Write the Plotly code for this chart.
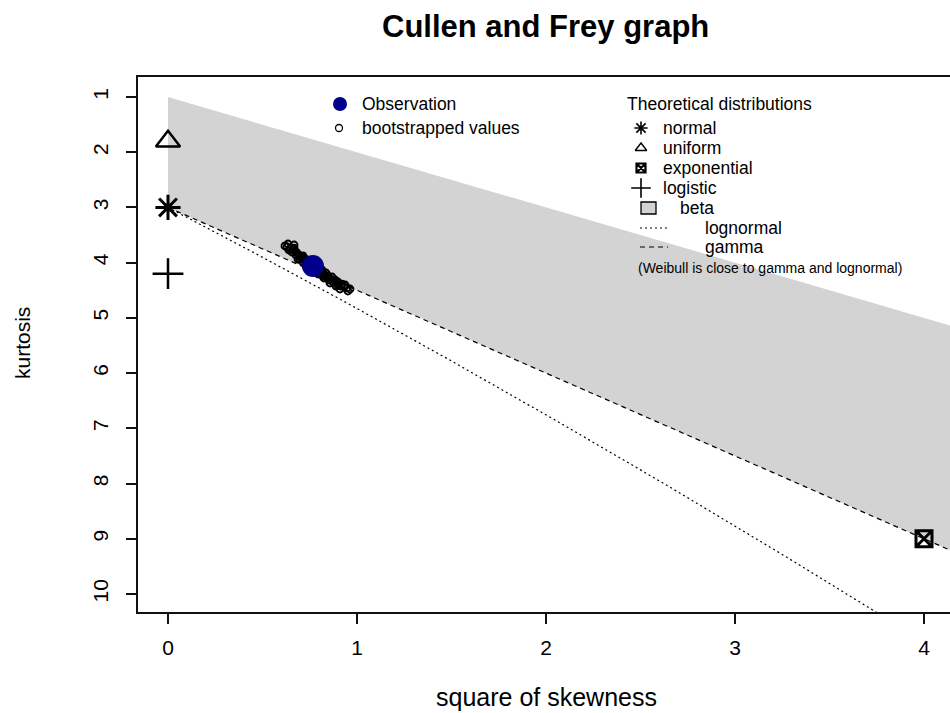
import plotly.graph_objects as go

# ---- data -------------------------------------------------------------
obs_skew2 = [0.767]
obs_kurt = [4.06]

boot_skew2 = [0.619, 0.635, 0.646, 0.656, 0.667, 0.672, 0.677, 0.693, 0.698, 0.709,
              0.714, 0.725, 0.730, 0.741, 0.751, 0.762, 0.772, 0.778, 0.783, 0.794,
              0.804, 0.810, 0.815, 0.820, 0.831, 0.841, 0.852, 0.862, 0.873, 0.889,
              0.899, 0.915, 0.931, 0.947, 0.963,
              0.640, 0.661, 0.683, 0.698, 0.720, 0.735, 0.746, 0.762, 0.783, 0.799,
              0.815, 0.836, 0.847, 0.868, 0.884, 0.899, 0.921, 0.937, 0.688, 0.714,
              0.794, 0.825, 0.857, 0.889, 0.910, 0.757, 0.730, 0.667, 0.630, 0.952]
boot_kurt = [3.698, 3.662, 3.753, 3.807, 3.735, 3.789, 3.861, 3.879, 3.934, 3.916,
             3.988, 3.970, 4.024, 3.988, 4.042, 4.079, 4.097, 4.042, 4.133, 4.169,
             4.151, 4.205, 4.133, 4.242, 4.224, 4.278, 4.314, 4.296, 4.350, 4.368,
             4.405, 4.423, 4.441, 4.459, 4.477,
             3.771, 3.753, 3.825, 3.879, 3.916, 3.952, 4.006, 4.006, 4.079, 4.115,
             4.169, 4.187, 4.242, 4.260, 4.314, 4.350, 4.387, 4.405, 3.934, 3.879,
             4.205, 4.278, 4.368, 4.423, 4.477, 4.133, 4.061, 3.680, 3.716, 4.513]

# theoretical single points (square of skewness, kurtosis)
normal_pt = ([0], [3.0])
uniform_pt = ([0], [1.8])
logistic_pt = ([0], [4.2])
exponential_pt = ([4], [9.0])

# lognormal curve
lnorm_skew2 = [0.0, 0.465, 0.961, 1.488, 2.048, 2.641, 3.267, 3.928]
lnorm_kurt = [3.0, 3.838, 4.756, 5.758, 6.850, 8.035, 9.320, 10.710]

# gamma line
gamma_skew2 = [0.0, 4.3]
gamma_kurt = [3.0, 9.45]

# beta region: between kurtosis = 1 + skew^2 and the gamma line
beta_skew2 = [0.0, 4.3, 4.3, 0.0]
beta_kurt = [1.0, 5.3, 9.45, 3.0]

x_ticks = [0, 1, 2, 3, 4]
y_ticks = [1, 2, 3, 4, 5, 6, 7, 8, 9, 10]

# ---- page geometry (pixels) ------------------------------------------
W, H = 950, 713
L, R, T, B = 138, 950, 77, 612
FONT = "Liberation Sans, Arial, sans-serif"
GREY = "#d3d3d3"
LEG_SIZE = 17.5


def px(x):
    return (x - L) / (R - L)


def py(y):
    return (B - y) / (B - T)


fig = go.Figure()

fig.add_trace(go.Scatter(x=beta_skew2, y=beta_kurt, fill="toself", fillcolor=GREY,
                         mode="lines", line=dict(width=0), hoverinfo="skip",
                         showlegend=False))
fig.add_trace(go.Scatter(x=lnorm_skew2, y=lnorm_kurt, mode="lines",
                         line=dict(color="black", width=1.2, dash="2px,3px"),
                         showlegend=False))
fig.add_trace(go.Scatter(x=gamma_skew2, y=gamma_kurt, mode="lines",
                         line=dict(color="black", width=1.2, dash="5px,4px"),
                         showlegend=False))

fig.add_trace(go.Scatter(x=boot_skew2, y=boot_kurt, mode="markers",
                         marker=dict(symbol="circle-open", size=7, color="black",
                                     line=dict(width=1.8)),
                         showlegend=False))
fig.add_trace(go.Scatter(x=obs_skew2, y=obs_kurt, mode="markers",
                         marker=dict(symbol="circle", size=22, color="#00008b"),
                         showlegend=False))

fig.add_trace(go.Scatter(x=normal_pt[0], y=normal_pt[1], mode="markers",
                         marker=dict(symbol="asterisk-open", size=21, color="black",
                                     line=dict(width=3, color="black")),
                         showlegend=False, cliponaxis=False))
fig.add_trace(go.Scatter(x=uniform_pt[0], y=uniform_pt[1], mode="markers",
                         marker=dict(symbol="triangle-up-open", size=21, color="black",
                                     line=dict(width=2.5, color="black")),
                         showlegend=False, cliponaxis=False))
fig.add_trace(go.Scatter(x=logistic_pt[0], y=logistic_pt[1], mode="markers",
                         marker=dict(symbol="cross-thin-open", size=22, color="black",
                                     line=dict(width=2.5, color="black")),
                         showlegend=False, cliponaxis=False))
fig.add_trace(go.Scatter(x=exponential_pt[0], y=exponential_pt[1], mode="markers",
                         marker=dict(symbol="square-x-open", size=16, color="black",
                                     line=dict(width=3, color="black")),
                         showlegend=False, cliponaxis=False))

# ---- hand-built legends on a pixel overlay axis ----------------------
leg_marks = [
    # (x, y, symbol, size, color, line width)
    (340, 104, "circle", 14, "#00008b", 0),
    (339, 128, "circle-open", 7, "black", 1.3),
    (641, 128, "asterisk-open", 11, "black", 1.6),
    (641, 148, "triangle-up-open", 10, "black", 1.4),
    (641, 168, "square-x-open", 9, "black", 2.2),
    (641, 188, "cross-thin-open", 14, "black", 1.6),
]
for x, y, sym, size, col, lw in leg_marks:
    fig.add_trace(go.Scatter(x=[x], y=[y], xaxis="x2", yaxis="y2", mode="markers",
                             marker=dict(symbol=sym, size=size, color=col,
                                         line=dict(width=lw, color=col)),
                             showlegend=False, hoverinfo="skip"))

shapes = [
    dict(type="rect", xref="x2", yref="y2", x0=641, x1=656, y0=202, y1=214,
         fillcolor=GREY, line=dict(color="black", width=1.3)),
    dict(type="line", xref="x2", yref="y2", x0=640, x1=668, y0=228, y1=228,
         line=dict(color="black", width=1.2, dash="2px,3px")),
    dict(type="line", xref="x2", yref="y2", x0=640, x1=668, y0=247, y1=247,
         line=dict(color="black", width=1.2, dash="5px,4px")),
]

leg_text = [
    # (x left, y centre, text, size)
    (361, 104, "Observation", LEG_SIZE),
    (361, 128, "bootstrapped values", LEG_SIZE),
    (626, 104, "Theoretical distributions", LEG_SIZE),
    (662, 128, "normal", LEG_SIZE),
    (662, 148, "uniform", LEG_SIZE),
    (662, 168, "exponential", LEG_SIZE),
    (662, 188, "logistic", LEG_SIZE),
    (679, 208, "beta", LEG_SIZE),
    (704, 228, "lognormal", LEG_SIZE),
    (704, 247, "gamma", LEG_SIZE),
    (637, 268, "(Weibull is close to gamma and lognormal)", 14),
]
annotations = []
for x, y, txt, size in leg_text:
    annotations.append(dict(x=px(x), y=py(y), xref="paper", yref="paper", text=txt,
                            showarrow=False, xanchor="left", yanchor="middle",
                            borderpad=0,
                            font=dict(family=FONT, size=size, color="black")))

annotations += [
    dict(x=px(545), y=py(27), xref="paper", yref="paper",
         text="<b>Cullen and Frey graph</b>", showarrow=False,
         xanchor="center", yanchor="middle",
         font=dict(family=FONT, size=31, color="black")),
    dict(x=px(546), y=py(697), xref="paper", yref="paper",
         text="square of skewness", showarrow=False,
         xanchor="center", yanchor="middle",
         font=dict(family=FONT, size=25, color="black")),
    dict(x=px(22), y=py(343), xref="paper", yref="paper",
         text="kurtosis", showarrow=False, textangle=-90,
         xanchor="center", yanchor="middle",
         font=dict(family=FONT, size=21, color="black")),
]

axis_common = dict(showgrid=False, zeroline=False, showline=True, linecolor="#111",
                   linewidth=1.5, ticks="outside", ticklen=10, tickwidth=1.5,
                   tickcolor="#111", tickfont=dict(family=FONT, size=21, color="black"))

fig.update_layout(
    width=W, height=H,
    margin=dict(l=L, r=W - R, t=T, b=H - B, autoexpand=False),
    paper_bgcolor="white", plot_bgcolor="white",
    showlegend=False,
    xaxis=dict(range=[(L - 168) / 189, (R - 168) / 189], tickvals=x_ticks,
               mirror=True, ticklabelstandoff=6, **axis_common),
    yaxis=dict(range=[1 + (B - 97) / 55.22, 1 + (T - 97) / 55.22], tickvals=y_ticks,
               tickangle=-90, mirror=False, ticklabelstandoff=10, **axis_common),
    xaxis2=dict(overlaying="x", range=[L, R], visible=False, anchor="y2"),
    yaxis2=dict(overlaying="y", range=[B, T], visible=False, anchor="x2"),
    shapes=shapes,
    annotations=annotations,
)

fig.write_html("out.html")
